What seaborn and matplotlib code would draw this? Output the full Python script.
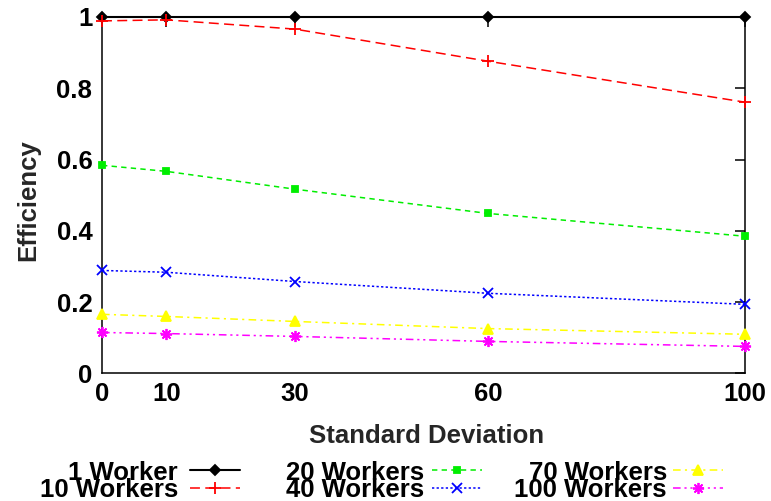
import matplotlib
matplotlib.use("Agg")
import matplotlib.pyplot as plt
from matplotlib.lines import Line2D
import seaborn as sns

# Efficiency versus standard deviation of task durations
std_dev = [0, 10, 30, 60, 100]
workers_1 = [1.0, 1.0, 1.0, 1.0, 1.0]
workers_10 = [0.989, 0.992, 0.966, 0.876, 0.761]
workers_20 = [0.584, 0.567, 0.517, 0.449, 0.385]
workers_40 = [0.289, 0.284, 0.258, 0.225, 0.194]
workers_70 = [0.166, 0.160, 0.146, 0.126, 0.110]
workers_100 = [0.115, 0.112, 0.104, 0.090, 0.076]

labels = ["1 Worker", "10 Workers", "20 Workers", "40 Workers", "70 Workers", "100 Workers"]
x_ticks = [0, 10, 30, 60, 100]
y_ticks = [0, 0.2, 0.4, 0.6, 0.8, 1.0]
y_tick_labels = ["0", "0.2", "0.4", "0.6", "0.8", "1"]

sns.set_style("white")
plt.rcParams["font.family"] = ["Liberation Sans", "DejaVu Sans"]
plt.rcParams["font.weight"] = "bold"
FS = 18.5
W, H = 771, 501

fig = plt.figure(figsize=(W / 100, H / 100), dpi=100)
ax = fig.add_axes([0.1323, 0.2545, 0.834, 0.7116])

styles = [
    dict(color="black", marker="D", markersize=5.5, linestyle="-", linewidth=1.5),
    dict(color="#ff0000", marker="+", markersize=9, linestyle=(0, (6.5, 3.5)), linewidth=1.1),
    dict(color="#00ee00", marker="s", markersize=5, linestyle=(0, (3.5, 2.8)), linewidth=1.1),
    dict(color="#0000ff", marker="x", markersize=6.5, linestyle=(0, (1.5, 1.5)), linewidth=1.1),
    dict(color="#ffff00", marker="^", markersize=7, linestyle=(0, (5, 2.8, 1.4, 2.8)), linewidth=1.1),
    dict(color="#ff00ff", marker=(8, 2, 0), markersize=8, linestyle=(0, (5, 2.5, 1.4, 2.5, 1.4, 2.5)), linewidth=1.1),
]
series = [workers_1, workers_10, workers_20, workers_40, workers_70, workers_100]

for vals, lab, st in zip(series, labels, styles):
    sns.lineplot(x=std_dev, y=vals, ax=ax, label=lab, legend=False, errorbar=None,
                 color=st["color"], marker=st["marker"], markersize=st["markersize"],
                 linestyle=st["linestyle"], linewidth=st["linewidth"],
                 markeredgecolor=st["color"], markerfacecolor=st["color"],
                 markeredgewidth=1.3, clip_on=False, zorder=3)

ax.set_xlim(0, 100)
ax.set_ylim(0, 1)
ax.set_xticks(x_ticks)
ax.set_xticklabels([str(t) for t in x_ticks])
ax.set_yticks(y_ticks)
ax.set_yticklabels(y_tick_labels)
ax.tick_params(direction="in", length=7, width=1.1, top=True, right=True,
               labelsize=FS, colors="black")
ax.tick_params(axis="y", pad=7)
ax.tick_params(axis="x", pad=6)
for lbl in ax.get_xticklabels() + ax.get_yticklabels():
    lbl.set_fontweight("bold")
for sp in ax.spines.values():
    sp.set_visible(True)
    sp.set_color("black")
    sp.set_linewidth(1.1)

ax.set_xlabel("Standard Deviation", fontsize=FS, fontweight="bold")
ax.set_ylabel("Efficiency", fontsize=FS, fontweight="bold")
ax.xaxis.set_label_coords(0.504, -0.174)
ax.xaxis.label.set_va("center")
ax.yaxis.set_label_coords(-0.115, 0.486)
ax.yaxis.label.set_va("center")

# Key below the plot: label on the left, line sample on the right, three columns
text_right = [178, 424, 667]
sample_span = [(190, 240), (432, 482), (673, 723)]
row_y = [470, 487.5]
for i, (lab, st) in enumerate(zip(labels, styles)):
    col, row = divmod(i, 2)
    yf = 1 - row_y[row] / H
    fig.text(text_right[col] / W, yf, lab, ha="right", va="center_baseline",
             fontsize=FS, fontweight="bold", color="black")
    x0, x1 = sample_span[col]
    fig.add_artist(Line2D([x0 / W, x1 / W], [yf, yf], transform=fig.transFigure,
                          color=st["color"], linestyle=st["linestyle"], linewidth=st["linewidth"]))
    fig.add_artist(Line2D([(x0 + x1) / 2 / W], [yf], transform=fig.transFigure,
                          color=st["color"], marker=st["marker"], markersize=st["markersize"],
                          markeredgecolor=st["color"], markerfacecolor=st["color"],
                          markeredgewidth=1.3, linestyle="none"))

fig.savefig("out.png", dpi=100)
